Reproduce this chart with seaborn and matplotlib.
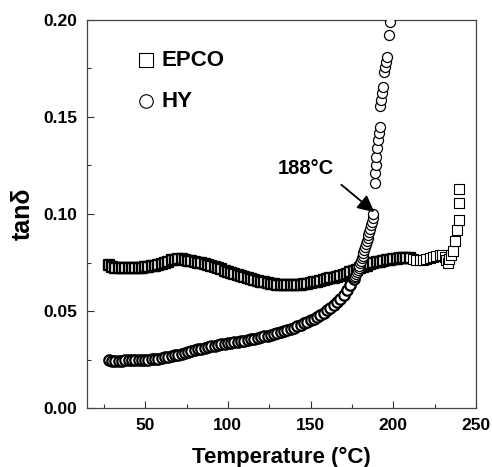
import numpy as np
import pandas as pd
import matplotlib
matplotlib.use("Agg")
import matplotlib.pyplot as plt
import seaborn as sns

# EPCO (squares) - tan delta vs temperature
epco_temp = [28, 30, 32, 34, 36, 38, 40, 42, 44, 46, 48, 50, 52, 54, 56, 58,
             60, 62, 64, 66, 68, 70, 72, 74, 76, 78, 80, 82, 84, 86, 88, 90,
             92, 94, 96, 98, 100, 102, 104, 106, 108, 110, 112, 114, 116, 118,
             120, 122, 124, 126, 128, 130, 132, 134, 136, 138, 140, 142, 144,
             146, 148, 150, 152, 154, 156, 158, 160, 162, 164, 166, 168, 170,
             172, 174, 176, 178, 180, 182, 184, 186, 188, 190, 192, 194, 196,
             198, 200, 202, 204, 206, 208, 210,
             212, 214, 216, 218, 220, 222, 224, 226, 228, 229.5, 231, 232,
             233, 234, 235, 236, 237.5, 238.5, 239.5, 239.5, 239.6]
epco_tand = [0.0735, 0.0728, 0.0724, 0.0722, 0.0721, 0.0721, 0.0721, 0.0722,
             0.0722, 0.0723, 0.0724, 0.0725, 0.0727, 0.0730, 0.0734, 0.0738,
             0.0742, 0.0748, 0.0755, 0.0761, 0.0765, 0.0767, 0.0766, 0.0763,
             0.0760, 0.0757, 0.0754, 0.0750, 0.0746, 0.0742, 0.0737, 0.0732,
             0.0726, 0.0720, 0.0714, 0.0708, 0.0703, 0.0698, 0.0693, 0.0688,
             0.0682, 0.0677, 0.0672, 0.0667, 0.0662, 0.0656, 0.0651, 0.0647,
             0.0643, 0.0640, 0.0637, 0.0635, 0.0633, 0.0632, 0.0632, 0.0632,
             0.0633, 0.0634, 0.0636, 0.0638, 0.0641, 0.0644, 0.0648, 0.0652,
             0.0656, 0.0660, 0.0664, 0.0668, 0.0672, 0.0676, 0.0680, 0.0686,
             0.0692, 0.0699, 0.0706, 0.0713, 0.0720, 0.0727, 0.0734, 0.0740,
             0.0746, 0.0751, 0.0755, 0.0759, 0.0762, 0.0765, 0.0767, 0.0769,
             0.0771, 0.0772, 0.0773, 0.0774,
             0.0770, 0.0765, 0.0762, 0.0765, 0.0770, 0.0774, 0.0778, 0.0782,
             0.0787, 0.0790, 0.0778, 0.0763, 0.0745, 0.0770, 0.0790, 0.0808,
             0.0862, 0.0918, 0.0969, 0.1058, 0.1127]
epco_dense = 92   # first points are packed into a solid band

# HY (circles)
hy_temp = [28, 30, 32, 34, 36, 38, 40, 42, 44, 46, 48, 50, 52, 54, 56, 58,
           60, 62, 64, 66, 68, 70, 72, 74, 76, 78, 80, 82, 84, 86, 88, 90,
           92, 94, 96, 98, 100, 102, 104, 106, 108, 110, 112, 114, 116, 118,
           120, 122, 124, 126, 128, 130, 132, 134, 136, 138, 140, 142, 144,
           146, 148, 150, 152, 154, 156, 158, 160, 162, 164, 166, 168, 170,
           172, 174, 176, 176.5, 177, 177.5, 178, 178.5, 179, 179.5, 180,
           180.5, 181, 181.5, 182, 182.5, 183, 183.5, 184, 184.5, 185, 185.5,
           186, 186.5, 187, 187.5, 188,
           188.7, 189.0, 189.4, 189.8, 190.2, 190.8, 191.2, 191.8, 192.2,
           192.6, 193.2, 193.8, 194.2, 195.2, 195.8, 196.2, 197.3, 197.9]
hy_tand = [0.0245, 0.0244, 0.0244, 0.0244, 0.0244, 0.0245, 0.0245, 0.0245,
           0.0246, 0.0246, 0.0247, 0.0248, 0.0250, 0.0251, 0.0253, 0.0255,
           0.0258, 0.0261, 0.0264, 0.0268, 0.0271, 0.0275, 0.0280, 0.0284,
           0.0289, 0.0294, 0.0298, 0.0302, 0.0306, 0.0310, 0.0314, 0.0318,
           0.0321, 0.0325, 0.0328, 0.0331, 0.0334, 0.0337, 0.0340, 0.0342,
           0.0345, 0.0348, 0.0351, 0.0354, 0.0358, 0.0361, 0.0365, 0.0369,
           0.0373, 0.0378, 0.0383, 0.0388, 0.0393, 0.0398, 0.0404, 0.0409,
           0.0415, 0.0422, 0.0429, 0.0436, 0.0444, 0.0452, 0.0461, 0.0470,
           0.0480, 0.0492, 0.0505, 0.0518, 0.0532, 0.0547, 0.0564, 0.0585,
           0.0608, 0.0635, 0.0665, 0.0673, 0.0682, 0.0691, 0.0700, 0.0711,
           0.0722, 0.0733, 0.0745, 0.0758, 0.0772, 0.0786, 0.0800, 0.0815,
           0.0830, 0.0845, 0.0860, 0.0876, 0.0892, 0.0908, 0.0925, 0.0942,
           0.0960, 0.0980, 0.1000,
           0.1161, 0.1210, 0.1253, 0.1295, 0.1340, 0.1380, 0.1416, 0.1450,
           0.1557, 0.1588, 0.1622, 0.1656, 0.1734, 0.1760, 0.1785, 0.1810,
           0.1923, 0.1990]
hy_dense = 75

x_ticks = [50, 100, 150, 200, 250]
y_ticks = [0.00, 0.05, 0.10, 0.15, 0.20]

sns.set_theme(style="ticks")
plt.rcParams["font.family"] = ["Liberation Sans", "DejaVu Sans"]
plt.rcParams["text.color"] = "black"
plt.rcParams["axes.labelcolor"] = "black"
plt.rcParams["xtick.color"] = "black"
plt.rcParams["ytick.color"] = "black"

fig = plt.figure(figsize=(4.92, 4.67), dpi=100)
ax = fig.add_axes([0.1774, 0.1263, 0.79, 0.8309])

# EPCO: dense band (thick edges look like the overlapped band), then the rest
sns.scatterplot(x=epco_temp[:epco_dense], y=epco_tand[:epco_dense], marker="s",
                s=60, color="white", edgecolor="black", linewidth=1.7,
                label="EPCO", ax=ax, zorder=3)
sns.scatterplot(x=epco_temp[epco_dense:], y=epco_tand[epco_dense:], marker="s",
                s=56, color="white", edgecolor="black", linewidth=0.8,
                ax=ax, zorder=3)
# HY
sns.scatterplot(x=hy_temp[:hy_dense], y=hy_tand[:hy_dense], marker="o",
                s=56, color="white", edgecolor="black", linewidth=1.6,
                label="HY", ax=ax, zorder=4)
sns.scatterplot(x=hy_temp[hy_dense:], y=hy_tand[hy_dense:], marker="o",
                s=52, color="white", edgecolor="black", linewidth=0.9,
                ax=ax, zorder=4)

ax.set_xlim(15, 250)
ax.set_ylim(0, 0.20)
ax.set_xticks(x_ticks)
ax.set_yticks(y_ticks)
ax.set_xticks([25, 75, 125, 175, 225], minor=True)
ax.set_yticks([0.025, 0.075, 0.125, 0.175], minor=True)
ax.set_yticklabels(["%.2f" % v for v in y_ticks])
ax.tick_params(which="both", direction="in", top=False, right=False,
               color="#333333", width=0.8)
ax.tick_params(which="major", length=5, labelsize=12.5, pad=7)
ax.tick_params(which="minor", length=3)
for lab in ax.get_xticklabels() + ax.get_yticklabels():
    lab.set_fontweight("bold")
for sp in ax.spines.values():
    sp.set_visible(True)
    sp.set_color("#444444")
    sp.set_linewidth(0.9)

ax.set_xlabel("Temperature (°C)", fontsize=16, fontweight="bold", labelpad=10.5)
ax.set_ylabel("tanδ", fontsize=18, fontweight="bold", labelpad=6)

ax.annotate("188°C", xy=(189.2, 0.1005), xytext=(147.1, 0.1232),
            textcoords="data", ha="center", va="center", fontsize=14.5,
            fontweight="bold", zorder=6,
            arrowprops=dict(arrowstyle="-|>,head_length=0.5,head_width=0.25",
                            mutation_scale=20, color="black", lw=1.3,
                            relpos=(1.0, 0.0), shrinkA=4, shrinkB=1))

leg = ax.legend(loc="upper left", bbox_to_anchor=(0.095, 0.945), frameon=False,
                prop={"size": 16, "weight": "bold"}, markerscale=1.3,
                handletextpad=0.1, labelspacing=0.9, handlelength=1.2,
                borderaxespad=0)
for h in leg.legend_handles:
    h.set_linewidth(0.8)

fig.savefig("out.png", dpi=100)
